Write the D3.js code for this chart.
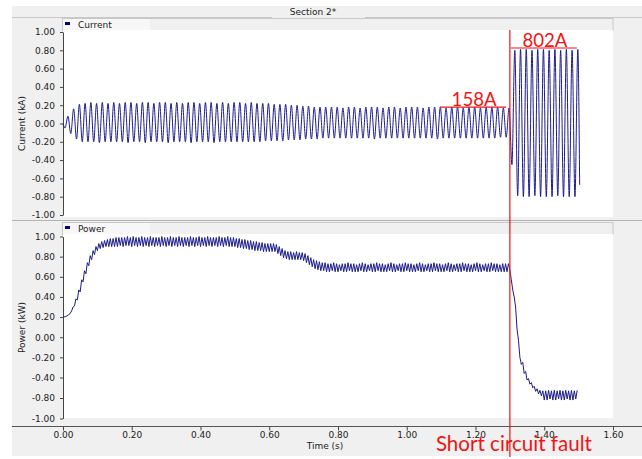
<!DOCTYPE html>
<html><head><meta charset="utf-8">
<script src="https://cdn.jsdelivr.net/npm/d3@7"></script>
<style>body{margin:0;background:#fff}svg{display:block}</style>
</head><body><svg id="chart" width="642" height="459"></svg>
<script>
// ---------- data ----------
const timeTicks = [0, 0.2, 0.4, 0.6, 0.8, 1.0, 1.2, 1.4, 1.6];
const currentTicks = [1, 0.8, 0.6, 0.4, 0.2, 0, -0.2, -0.4, -0.6, -0.8, -1];
const powerTicks = [1, 0.8, 0.6, 0.4, 0.2, 0, -0.2, -0.4, -0.8, -1];
const titleText = "Section 2*";
const seriesNames = ["Current", "Power"];
const axisTitles = ["Current (kA)", "Power (kW)", "Time (s)"];

// current (kA): successive peaks / troughs, one every half cycle (60 Hz)
const currentFirst = [0, 0];
const currentStartTime = 0.006;
const currentStep = 1 / 120;
const currentValues = [
  -.05,.08,-.11,.16,-.17,.21,-.20,.22,-.20,.23,-.20,.22,-.21,.23,-.20,.22,-.20,.23,-.20,.22,
  -.20,.23,-.21,.23,-.20,.22,-.20,.23,-.21,.23,-.20,.22,-.20,.23,-.20,.23,-.21,.22,-.20,.23,
  -.20,.22,-.20,.23,-.21,.23,-.20,.22,-.20,.23,-.20,.23,-.21,.22,-.20,.23,-.20,.22,-.20,.23,
  -.20,.23,-.20,.22,-.20,.23,-.20,.22,-.20,.22,-.19,.22,-.19,.21,-.19,.21,-.19,.21,-.18,.20,
  -.18,.20,-.18,.19,-.17,.19,-.17,.18,-.17,.18,-.16,.18,-.16,.18,-.16,.18,-.16,.17,-.16,.18,
  -.16,.18,-.16,.17,-.16,.18,-.16,.18,-.17,.18,-.16,.17,-.16,.18,-.16,.18,-.16,.17,-.16,.18,
  -.16,.18,-.16,.18,-.16,.17,-.16,.18,-.16,.18,-.17,.18,-.16,.17,-.16,.18,-.16,.18,-.16,.17,
  -.16,.18,-.16,.18,-.16,.17,-.16,.18,-.16,.18,-.16,.18,-.15,.17,-.15,.17,-.45,.80,-.79,.81,
  -.80,.81,-.80,.80,-.79,.81,-.80,.81,-.80,.80,-.80,.81,-.79,.80,-.80,.81,-.80,.80,-.80,.81
];
const currentLast = [1.503, -0.67];

// power (kW): smooth start, then band extremes every 1/240 s
const powerLeadTimes = [0, 0.008, 0.016, 0.021];
const powerLeadValues = [0.20, 0.205, 0.22, 0.24];
const powerStartTime = 0.025;
const powerStep = 1 / 240;
const powerValues = [
  .26,.30,.31,.38,.37,.47,.45,.57,.55,.66,.63,.74,.71,.81,.77,.86,.82,.90,.86,.93,
  .88,.95,.89,.96,.90,.97,.90,.98,.90,.98,.90,.99,.90,.99,.91,.99,.90,.99,.91,1.0,
  .91,.99,.90,1.0,.91,.99,.90,.99,.91,1.0,.90,.99,.91,.99,.90,1.0,.91,.99,.90,.99,
  .91,.99,.90,1.0,.91,.99,.90,.99,.91,1.0,.90,.99,.91,.99,.90,1.0,.91,.99,.90,.99,
  .91,.99,.90,1.0,.91,.99,.90,.99,.91,1.0,.90,.99,.91,.99,.90,1.0,.91,.99,.90,.99,
  .91,.99,.90,1.0,.91,.99,.90,.99,.91,1.0,.90,.99,.90,.99,.90,.98,.89,.98,.89,.97,
  .88,.97,.88,.96,.87,.96,.87,.95,.86,.95,.86,.94,.86,.94,.85,.93,.85,.93,.85,.93,
  .85,.93,.85,.92,.83,.90,.81,.88,.79,.86,.78,.85,.77,.85,.77,.84,.77,.85,.77,.84,
  .77,.84,.76,.83,.74,.81,.72,.79,.70,.77,.68,.76,.67,.75,.66,.74,.66,.74,.65,.73,
  .65,.73,.66,.74,.65,.73,.65,.72,.66,.73,.65,.73,.65,.74,.66,.73,.65,.73,.65,.72,
  .65,.73,.66,.74,.65,.73,.65,.72,.66,.73,.65,.73,.65,.74,.66,.73,.65,.73,.65,.72,
  .65,.73,.66,.74,.65,.73,.65,.72,.66,.73,.65,.73,.65,.74,.66,.73,.65,.73,.65,.72,
  .65,.73,.66,.74,.65,.73,.65,.72,.66,.73,.65,.73,.65,.74,.66,.73,.65,.73,.65,.72,
  .65,.73,.66,.74,.65,.73,.65,.72,.66,.73,.65,.73,.65,.74,.66,.73,.65,.73,.65,.72,
  .65,.73,.66,.74,.65,.73,.65,.72,.66,.73,.65,.73,.65,.74,.66,.73,.65,.73,.65,.72,
  .65,.73,.65,.73,.65,.73,
  .67,.57,.47,.40,.30,.08,-.03,-.20,-.27,-.25,-.36,-.34,-.45,-.42,-.53,-.50,-.60,-.57,-.67,-.62,-.72,-.65,-.76,-.66,
  -.82,-.66,-.82,-.65,-.81,-.66,-.82,-.65,-.82,-.66,-.81,-.65,-.82,-.66,-.82,-.65,-.81,-.66,-.82,-.65,-.82,-.66,-.81,-.65
];

// annotations
const faultTime = 1.30;
const faultLabel = "Short circuit fault";
const markLabels = ["158A", "802A"];
const markValues = [0.18, 0.825];
const markStarts = [1.097, 1.303];
const markEnds = [1.289, 1.495];

// ---------- drawing ----------
const svg = d3.select("#chart");
const W = 642, H = 459;
const BG = "#f0f0f0", EDGE = "#c8c8c8", WAVE = "#1c1c8c", RED = "#f01414";
const uiFont = "DejaVu Sans";
const fmt = d => d.toFixed(2);

const x = d3.scaleLinear().domain([0, 1.6]).range([63, 613]);
const yCur = d3.scaleLinear().domain([1, -1]).range([32, 215]);
const yPow = d3.scaleLinear().domain([1, -0.4, -0.8, -1]).range([236.5, 377.5, 398, 418.5]);

// frame
svg.append("rect").attr("x", 12).attr("y", 6).attr("width", W - 12).attr("height", 450).attr("fill", BG);
svg.append("line").attr("x1", 12).attr("x2", 272).attr("y1", 17.5).attr("y2", 17.5).attr("stroke", EDGE);
svg.append("line").attr("x1", 365).attr("x2", W).attr("y1", 17.5).attr("y2", 17.5).attr("stroke", EDGE);
svg.append("text").attr("x", 313).attr("y", 15).attr("text-anchor", "middle")
  .attr("font-family", uiFont).attr("font-size", 9).attr("fill", "#222").text(titleText);

const panels = [
  {name: seriesNames[0], top: 18, plotTop: 30, plotBottom: 217, y: yCur, ticks: currentTicks, title: axisTitles[0]},
  {name: seriesNames[1], top: 222, plotTop: 234, plotBottom: 418, y: yPow, ticks: powerTicks, title: axisTitles[1]}
];

panels.forEach(p => {
  // legend bar
  svg.append("rect").attr("x", 62.5).attr("y", p.top + 0.5).attr("width", 550.5).attr("height", 12)
    .attr("fill", BG).attr("stroke", EDGE);
  svg.append("rect").attr("x", 63).attr("y", p.top + 1).attr("width", 87).attr("height", 12).attr("fill", "#f7f7f7");
  svg.append("rect").attr("x", 65).attr("y", p.top + 4).attr("width", 5).attr("height", 3).attr("fill", "#000080");
  svg.append("text").attr("x", 78).attr("y", p.top + 10).attr("font-family", uiFont).attr("font-size", 9)
    .attr("fill", "#222").text(p.name);
  // plot area
  svg.append("rect").attr("x", 63).attr("y", p.plotTop).attr("width", 550).attr("height", p.plotBottom - p.plotTop)
    .attr("fill", "#fff");
  // y axis
  const ax = svg.append("g").attr("transform", "translate(63,0)")
    .call(d3.axisLeft(p.y).tickValues(p.ticks).tickFormat(fmt).tickSize(3).tickSizeOuter(0).tickPadding(5));
  ax.selectAll("text").attr("font-family", uiFont).attr("font-size", 9).attr("fill", "#222");
  ax.selectAll("line,path").attr("stroke", "#444");
  // axis title
  const cy = (p.y.range()[0] + p.y.range()[p.y.range().length - 1]) / 2;
  svg.append("text").attr("transform", `translate(25,${cy}) rotate(-90)`).attr("text-anchor", "middle")
    .attr("font-family", uiFont).attr("font-size", 9).attr("fill", "#222").text(p.title);
});
// separator between panels
svg.append("line").attr("x1", 12).attr("x2", W).attr("y1", 220.5).attr("y2", 220.5).attr("stroke", "#b4b4b4");

// x axis
svg.append("line").attr("x1", 12).attr("x2", W).attr("y1", 426.5).attr("y2", 426.5).attr("stroke", "#555");
const xa = svg.append("g").attr("transform", "translate(0,426.5)")
  .call(d3.axisBottom(x).tickValues(timeTicks).tickFormat(fmt).tickSize(4).tickPadding(1));
xa.select(".domain").remove();
xa.selectAll("line").attr("stroke", "#444");
xa.selectAll("text").attr("font-family", uiFont).attr("font-size", 9).attr("fill", "#222");
svg.append("text").attr("x", 325).attr("y", 449).attr("text-anchor", "middle")
  .attr("font-family", uiFont).attr("font-size", 9).attr("fill", "#222").text(axisTitles[2]);

// series
const curPts = [{t: currentFirst[0], v: currentFirst[1]}]
  .concat(currentValues.map((v, i) => ({t: currentStartTime + i * currentStep, v})))
  .concat([{t: currentLast[0], v: currentLast[1]}]);
svg.append("path").attr("d", d3.line().x(d => x(d.t)).y(d => yCur(d.v)).curve(d3.curveMonotoneX)(curPts))
  .attr("fill", "none").attr("stroke", WAVE).attr("stroke-width", 1);

const powPts = powerLeadTimes.map((t, i) => ({t, v: powerLeadValues[i]}))
  .concat(powerValues.map((v, i) => ({t: powerStartTime + i * powerStep, v})));
svg.append("path").attr("d", d3.line().x(d => x(d.t)).y(d => yPow(d.v))(powPts))
  .attr("fill", "none").attr("stroke", WAVE).attr("stroke-width", 1);

// annotations
const fx = x(faultTime);
svg.append("line").attr("x1", fx).attr("x2", fx).attr("y1", 30).attr("y2", 457)
  .attr("stroke", RED).attr("stroke-width", 1.2);
markLabels.forEach((lab, i) => {
  const yy = yCur(markValues[i]);
  svg.append("line").attr("x1", x(markStarts[i])).attr("x2", x(markEnds[i])).attr("y1", yy).attr("y2", yy)
    .attr("stroke", RED).attr("stroke-width", 1.2);
  svg.append("text").attr("x", (x(markStarts[i]) + x(markEnds[i])) / 2 + 1).attr("y", yy - 1.5)
    .attr("text-anchor", "middle").attr("font-family", "Lato").attr("font-size", 20)
    .attr("textLength", 45).attr("lengthAdjust", "spacingAndGlyphs")
    .attr("fill", RED).text(lab);
});
svg.append("text").attr("x", fx - 74).attr("y", 451).attr("font-family", "Lato").attr("font-size", 20.5)
  .attr("textLength", 156).attr("lengthAdjust", "spacingAndGlyphs").attr("fill", RED).text(faultLabel);
</script>
</body></html>
